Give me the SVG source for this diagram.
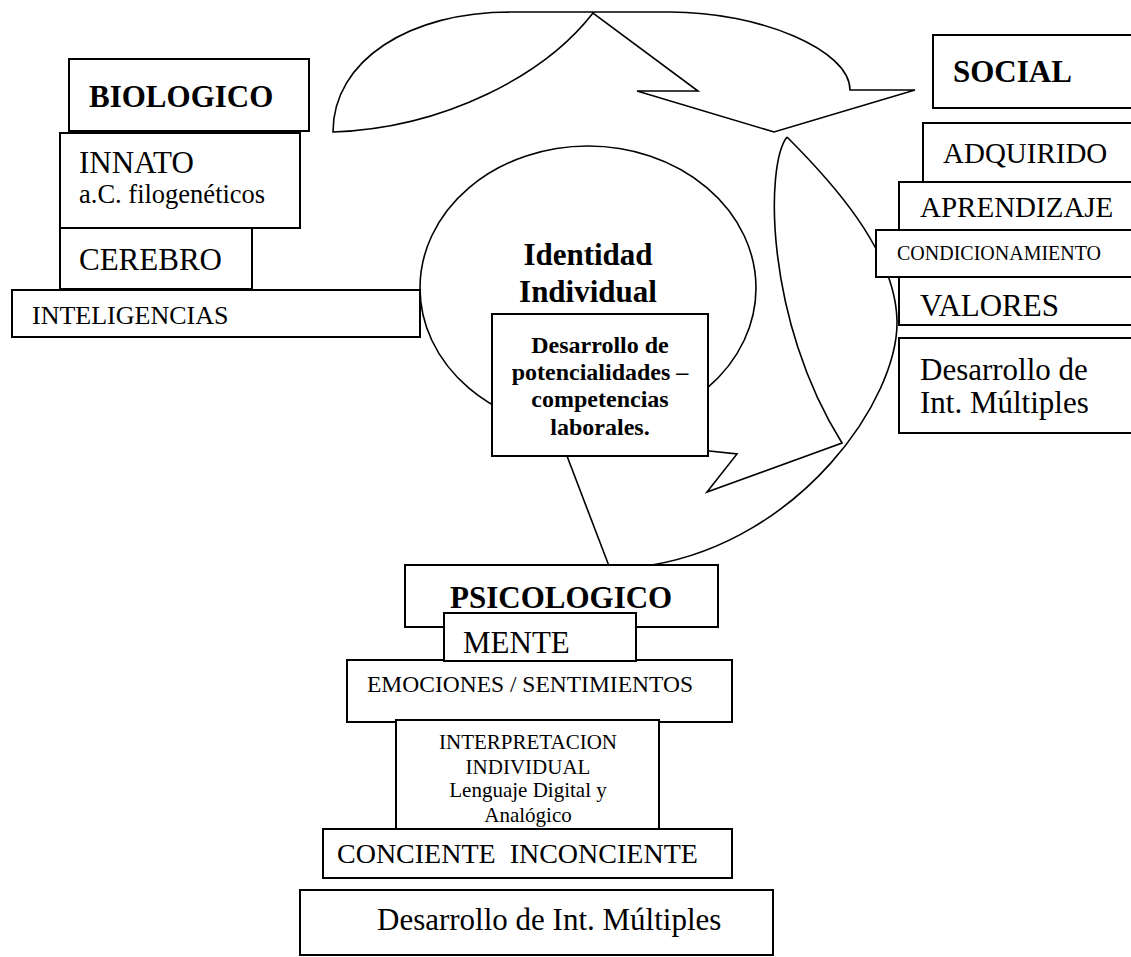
<svg xmlns="http://www.w3.org/2000/svg" width="1131" height="957" viewBox="0 0 1131 957">
<style>
.bx{fill:#fff;stroke:#000;stroke-width:2}
.sh{fill:#fff;stroke:#000;stroke-width:1.6;stroke-linejoin:miter}
.ln{fill:none;stroke:#000;stroke-width:1.6}
text{font-family:"Liberation Serif","Times New Roman",serif;fill:#000}
.b{font-weight:bold}
.c{text-anchor:middle}
</style>
<rect width="1131" height="957" fill="#fff"/>
<g id="connectors">
<path class="sh" d="M 333,132 C 333,60 410,12 510,12 L 670,12 C 760,12 850,50 850,90 L 915,90 L 774,132 L 637,91 L 698,91 L 593,13 C 545,75 445,128 333,132 Z"/>
<path class="ln" d="M 787,137 C 830,180 895,250 897,320 C 899,400 800,540 652,565"/>
<path class="ln" d="M 787,137 C 765,165 765,320 842,443 L 707,492 L 737,454 L 700,450"/>
<path class="ln" d="M 567,456 L 609,566"/>
</g>
<g id="identidad">
<ellipse class="sh" cx="588" cy="288" rx="168" ry="142"/>
<text class="b c" x="588" y="265" font-size="31">Identidad</text>
<text class="b c" x="588" y="302" font-size="31">Individual</text>
</g>
<g id="biologico">
<rect class="bx" x="69" y="59" width="240" height="72"/>
<text class="b" x="89" y="107" font-size="31">BIOLOGICO</text>
</g>
<g id="innato">
<rect class="bx" x="60" y="133" width="240" height="95"/>
<text x="79" y="173" font-size="31">INNATO</text>
<text x="79" y="203" font-size="26.5">a.C. filogenéticos</text>
</g>
<g id="cerebro">
<rect class="bx" x="60" y="228" width="192" height="61"/>
<text x="79" y="270" font-size="31">CEREBRO</text>
</g>
<g id="inteligencias">
<rect class="bx" x="12" y="290" width="408" height="47"/>
<text x="32" y="324" font-size="26">INTELIGENCIAS</text>
</g>
<g id="desarrollo-potencialidades">
<rect class="bx" x="492" y="314" width="216" height="142"/>
<text class="b c" x="600" y="353" font-size="24">Desarrollo de</text>
<text class="b c" x="600" y="380" font-size="24">potencialidades –</text>
<text class="b c" x="600" y="407" font-size="24">competencias</text>
<text class="b c" x="600" y="435" font-size="24">laborales.</text>
</g>
<g id="social">
<rect class="bx" x="933" y="35" width="205" height="73"/>
<text class="b" x="953" y="82" font-size="31">SOCIAL</text>
</g>
<g id="adquirido">
<rect class="bx" x="923" y="123" width="215" height="60"/>
<text x="943" y="163" font-size="29">ADQUIRIDO</text>
</g>
<g id="aprendizaje">
<rect class="bx" x="899" y="182" width="239" height="48"/>
<text x="920" y="217" font-size="29">APRENDIZAJE</text>
</g>
<g id="valores">
<rect class="bx" x="899" y="277" width="239" height="48"/>
<text x="920" y="316" font-size="31">VALORES</text>
</g>
<g id="condicionamiento">
<rect class="bx" x="876" y="230" width="262" height="47"/>
<text x="897" y="260" font-size="20">CONDICIONAMIENTO</text>
</g>
<g id="desarrollo-social">
<rect class="bx" x="899" y="338" width="239" height="95"/>
<text x="920" y="380" font-size="31">Desarrollo de</text>
<text x="920" y="413" font-size="31">Int. Múltiples</text>
</g>
<g id="psicologico">
<rect class="bx" x="405" y="565" width="313" height="62"/>
<text class="b" x="450" y="608" font-size="31">PSICOLOGICO</text>
</g>
<g id="emociones">
<rect class="bx" x="347" y="660" width="385" height="62"/>
<text x="367" y="692" font-size="23.5">EMOCIONES / SENTIMIENTOS</text>
</g>
<g id="mente">
<rect class="bx" x="444" y="613" width="192" height="48"/>
<text x="463" y="653" font-size="31">MENTE</text>
</g>
<g id="interpretacion">
<rect class="bx" x="396" y="720" width="263" height="109"/>
<text class="c" x="528" y="749" font-size="21">INTERPRETACION</text>
<text class="c" x="528" y="774" font-size="21">INDIVIDUAL</text>
<text class="c" x="528" y="797" font-size="21">Lenguaje Digital y</text>
<text class="c" x="528" y="822" font-size="21">Analógico</text>
</g>
<g id="conciente">
<rect class="bx" x="323" y="829" width="409" height="49"/>
<text x="337" y="863" font-size="28" style="white-space:pre">CONCIENTE  INCONCIENTE</text>
</g>
<g id="desarrollo-psicologico">
<rect class="bx" x="300" y="890" width="473" height="65"/>
<text x="377" y="930" font-size="31">Desarrollo de Int. Múltiples</text>
</g>
</svg>
